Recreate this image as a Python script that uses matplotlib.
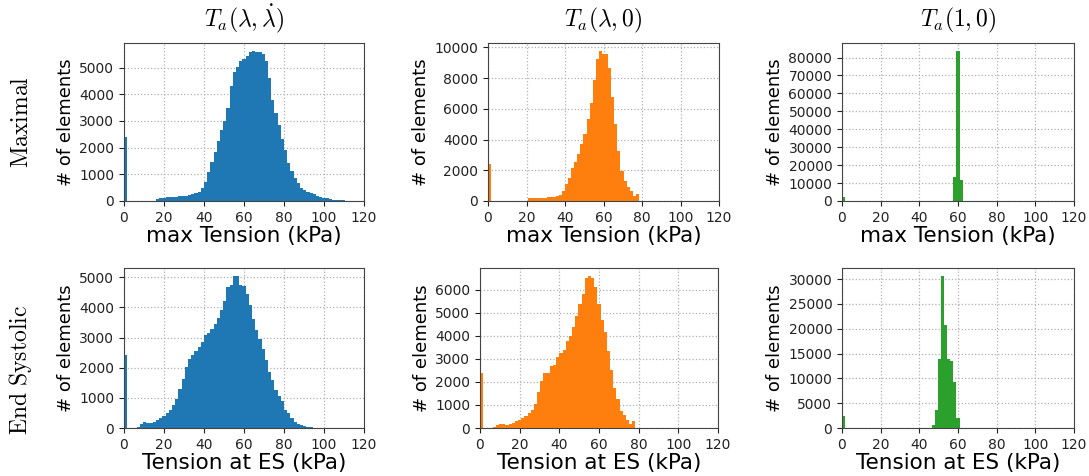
import numpy as np
import matplotlib
matplotlib.use('Agg')
import matplotlib.pyplot as plt
from matplotlib.ticker import MultipleLocator

plt.rcParams['mathtext.fontset'] = 'cm'

# common histogram bins (kPa)
bin_width = 1.6
bin_edges = np.arange(0, 120 + bin_width / 2, bin_width)

col_titles = [r'$T_a(\lambda,\dot{\lambda})$', r'$T_a(\lambda,0)$', r'$T_a(1,0)$']
row_titles = [r'$\mathrm{Maximal}$', r'$\mathrm{End\ Systolic}$']
x_labels = ['max Tension (kPa)', 'Tension at ES (kPa)']
colors = ['#1f77b4', '#ff7f0e', '#2ca02c']

# counts per bin
max_lam_dlam = [2410, 0, 0, 0, 0, 0, 0, 0, 0, 15,
                60, 110, 130, 145, 155, 160, 165, 170, 185, 195,
                220, 260, 300, 320, 475, 700, 1075, 1475, 1825, 2250,
                2675, 3000, 3475, 4325, 4825, 5040, 5250, 5310, 5450, 5575,
                5640, 5600, 5600, 5500, 5250, 4625, 3790, 3290, 2850, 2325,
                1900, 1410, 1125, 850, 660, 500, 410, 350, 300, 250,
                205, 160, 120, 95, 75, 55, 40, 30, 22, 15,
                10, 5, 3, 0, 0]
max_lam_0 = [2410, 0, 0, 0, 0, 0, 0, 0, 0, 0,
             0, 0, 30, 175, 180, 190, 200, 210, 220, 240,
             260, 290, 330, 390, 650, 1100, 1530, 2165, 2515, 3040,
             3695, 4370, 5355, 6380, 7910, 9225, 9800, 9600, 9550, 8630,
             6750, 5025, 3255, 1980, 1300, 900, 620, 330, 450, 0,
             0, 0, 0, 0, 0, 0, 0, 0, 0, 0,
             0, 0, 0, 0, 0, 0, 0, 0, 0, 0,
             0, 0, 0, 0, 0]
max_1_0 = [2410, 0, 0, 0, 0, 0, 0, 0, 0, 0,
           0, 0, 0, 0, 0, 0, 0, 0, 0, 0,
           0, 0, 0, 0, 0, 0, 0, 0, 0, 0,
           0, 0, 0, 0, 0, 0, 13500, 83900, 11700, 0,
           0, 0, 0, 0, 0, 0, 0, 0, 0, 0,
           0, 0, 0, 0, 0, 0, 0, 0, 0, 0,
           0, 0, 0, 0, 0, 0, 0, 0, 0, 0,
           0, 0, 0, 0, 0]
es_lam_dlam = [2410, 0, 0, 10, 40, 133, 210, 177, 155, 188,
               277, 320, 410, 500, 586, 752, 950, 1305, 1615, 2013,
               2300, 2433, 2544, 2677, 2854, 3075, 3164, 3296, 3451, 3650,
               3905, 4226, 4668, 4735, 5033, 5055, 4757, 4701, 4447, 4093,
               3628, 3263, 2954, 2633, 2257, 1847, 1593, 1272, 1051, 885,
               608, 498, 332, 188, 144, 88, 55, 33, 20, 15,
               10, 6, 3, 0, 0, 0, 0, 0, 0, 0,
               0, 0, 0, 0, 0]
es_lam_0 = [2410, 0, 0, 15, 60, 150, 185, 165, 150, 190,
            235, 290, 350, 440, 540, 640, 780, 1050, 1561, 2023,
            2370, 2370, 2702, 2746, 3078, 3251, 3382, 3757, 3974, 4393,
            4884, 5376, 5838, 6503, 6618, 6532, 6127, 5405, 4697, 4162,
            3353, 2514, 1720, 1272, 751, 578, 361, 173, 318, 0,
            0, 0, 0, 0, 0, 0, 0, 0, 0, 0,
            0, 0, 0, 0, 0, 0, 0, 0, 0, 0,
            0, 0, 0, 0, 0]
es_1_0 = [2410, 0, 0, 0, 0, 0, 0, 0, 0, 0,
          0, 0, 0, 0, 0, 0, 0, 0, 0, 0,
          0, 0, 0, 0, 0, 0, 0, 0, 0, 535,
          3550, 13900, 30720, 20800, 14000, 13600, 9300, 2075, 0, 0,
          0, 0, 0, 0, 0, 0, 0, 0, 0, 0,
          0, 0, 0, 0, 0, 0, 0, 0, 0, 0,
          0, 0, 0, 0, 0, 0, 0, 0, 0, 0,
          0, 0, 0, 0, 0]

counts = [[max_lam_dlam, max_lam_0, max_1_0],
          [es_lam_dlam, es_lam_0, es_1_0]]
y_steps = [[1000, 2000, 10000], [1000, 1000, 5000]]

fig = plt.figure(figsize=(10.89, 4.76), dpi=100)
W, H = 1089, 476
# axes boxes in pixels: left, right, top, bottom
boxes = [[(124, 364, 43, 201), (488, 719, 43, 201), (842, 1074, 43, 201)],
         [(124, 364, 268, 428), (480, 718, 268, 428), (842, 1074, 268, 428)]]

for r in range(2):
    for c in range(3):
        l, rr, t, b = boxes[r][c]
        ax = fig.add_axes([l / W, 1 - b / H, (rr - l) / W, (b - t) / H])
        ax.bar(bin_edges[:-1], counts[r][c], width=bin_width, align='edge',
               color=colors[c], linewidth=0, zorder=2)
        ax.set_xlim(0, 120)
        ax.set_xticks(np.arange(0, 121, 20))
        ax.yaxis.set_major_locator(MultipleLocator(y_steps[r][c]))
        ax.grid(True, linestyle=':', color='#b0b0b0', linewidth=0.9, zorder=0)
        ax.set_axisbelow(True)
        for s in ax.spines.values():
            s.set_color('#444444')
        ax.tick_params(labelsize=10, colors='#222222')
        ax.set_xlabel(x_labels[r], fontsize=15.5, labelpad=1)
        ax.set_ylabel('# of elements', fontsize=13, labelpad=3)
        if r == 0:
            ax.set_title(col_titles[c], fontsize=17, pad=12)

fig.text(0.019, 1 - 122 / H, row_titles[0], rotation=90, fontsize=17,
         ha='center', va='center')
fig.text(0.019, 1 - 370 / H, row_titles[1], rotation=90, fontsize=17,
         ha='center', va='center')

plt.savefig('out.png', dpi=100)
